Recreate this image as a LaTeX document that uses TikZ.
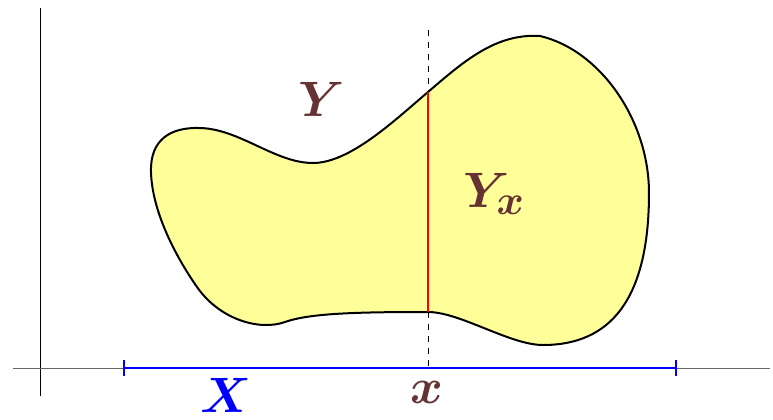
\documentclass[tikz,border=0pt]{standalone}
\usepackage{amsmath}
\usepackage{xcolor}
\usepackage{tikz}
\usetikzlibrary{arrows.meta, positioning}

\definecolor{labelbrown}{RGB}{102,51,51}
\definecolor{blobyellow}{RGB}{255,255,153}

\begin{document}
\begin{tikzpicture}[
    x=0.5pt, y=-0.5pt,
    axis/.style={line width=0.5pt},
    blob/.style={draw, fill=blobyellow, line width=1pt},
    fibre/.style={red, line width=1pt},
    base/.style={blue, line width=1.2pt, {Bar[width=8pt]}-{Bar[width=8pt]}},
    lbl/.style={inner sep=0pt, font=\fontsize{30}{36}\selectfont\boldmath}
]
\useasboundingbox (0,0) rectangle (773,419);

% --- Axes ---
\coordinate (yaxisTop) at (40,8);
\coordinate (yaxisBot) at (40,396);
\coordinate (xaxisL) at (13,368);
\coordinate (xaxisR) at (770,368);
\draw[axis] (yaxisTop) -- (yaxisBot);
\draw[axis, black!60] (xaxisL) -- (xaxisR);

% --- Region Y ---
\coordinate (fibTop) at (428,92);
\coordinate (fibBot) at (428,312);
\draw[blob] (151,172) .. controls (150,140) and (170,127) .. (200,128)
    .. controls (240,129) and (275,163) .. (313,163)
    .. controls (350,163) and (395,120) .. (fibTop)
    .. controls (462,63) and (495,33) .. (540,36)
    .. controls (600,50) and (649,120) .. (649,193)
    .. controls (649,300) and (610,345) .. (543,345)
    .. controls (510,345) and (460,312) .. (fibBot)
    .. controls (360,312) and (310,313) .. (285,322)
    .. controls (260,331) and (220,320) .. (197,287)
    .. controls (174,254) and (152,210) .. cycle;

% --- Fibre over x ---
\coordinate (dashTop) at (428,30);
\coordinate (dashBot) at (428,368);
\draw[dashed, line width=0.5pt] (dashTop) -- (fibTop);
\draw[dashed, line width=0.5pt] (fibBot) -- (dashBot);
\draw[fibre] (fibTop) -- (fibBot);

% --- Base X ---
\coordinate (xL) at (123,368);
\coordinate (xR) at (677,368);
\draw[base] (xL) -- (xR);

% --- Labels ---
\node[lbl, text=labelbrown] (lblY) at (322,99) {$Y$};
\node[lbl, text=labelbrown] (lblYx) at (494,194) {$Y_x$};
\node[lbl, text=blue] (lblX) at (226,395) {$X$};
\node[lbl, text=labelbrown] (lblx) at (427,392) {$x$};
\end{tikzpicture}
\end{document}
